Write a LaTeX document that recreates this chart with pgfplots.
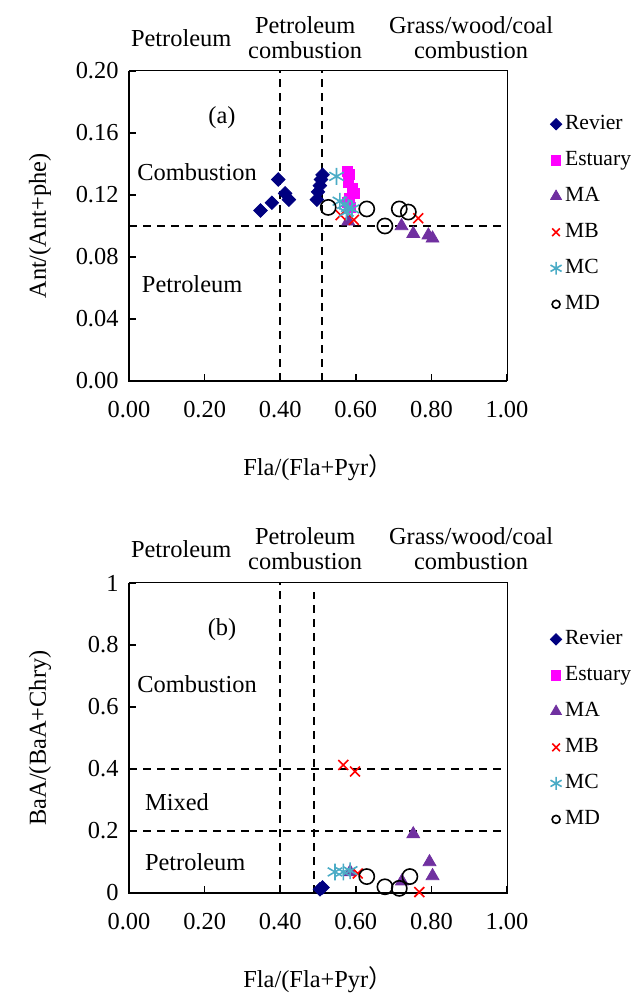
\documentclass[border=0pt]{standalone}
\usepackage{pgfplots}
\pgfplotsset{compat=1.18}
\usepackage{fontspec}
\setmainfont{Liberation Serif}
\newfontfamily\cjk{Noto Sans CJK SC}
\definecolor{revier}{HTML}{000080}
\definecolor{estuary}{HTML}{FF00FF}
\definecolor{maC}{HTML}{7030A0}
\definecolor{mbC}{HTML}{FF0000}
\definecolor{mcC}{HTML}{4BACC6}
\pgfplotsset{
  common/.style={
    scale only axis, width=189bp, height=155bp, anchor=south west,
    clip=false,
    xmin=0, xmax=1, xtick={0,0.2,0.4,0.6,0.8,1},
    axis line style={line width=0.5bp},
    tick align=inside, xtick pos=bottom, ytick pos=left,
    major tick length=3.5bp,
    tick style={line width=0.8bp, black},
    /pgf/number format/assume math mode=true,
    xticklabel style={/pgf/number format/.cd, fixed, fixed zerofill, precision=2, /tikz/.cd, yshift=-6bp},
    yticklabel style={xshift=-1bp},
    xlabel={Fla/(Fla+Pyr{\cjk ）}},
    xlabel style={at={(axis description cs:0.5,-0.28)}, anchor=center},
    ylabel style={at={(axis description cs:-0.2354,0.5)}, anchor=center},
    legend style={draw=none, fill=none, inner sep=0pt, outer sep=0pt,
      anchor=north west, row sep=7.5bp, font=\fontsize{10.8bp}{12bp}\selectfont,
      nodes={inner xsep=0pt, inner ysep=0pt, text height=8bp, text depth=2.5bp}},
    legend cell align=left,
    legend image code/.code={%
      \pgfpathrectangle{\pgfpoint{-4.5bp}{-3bp}}{\pgfpoint{9bp}{6bp}}\pgfusepath{}%
      \pgfinterruptboundingbox
      \draw[mark repeat=2,mark phase=2,#1] plot coordinates {(-4bp,0bp)(0bp,0bp)(4bp,0bp)};
      \endpgfinterruptboundingbox},
    dl/.style={black, dash pattern=on 4bp off 3bp, line width=0.75bp, forget plot},
    srev/.style={only marks, mark=square*, mark size=2.4bp, mark options={rotate=45, fill=revier, draw=revier}, color=revier},
    sest/.style={only marks, mark=square*, mark size=2.5bp, color=estuary, mark options={fill=estuary}},
    sma/.style={only marks, mark=triangle*, mark size=3.7bp, color=maC, mark options={fill=maC}},
    smb/.style={only marks, mark=x, mark size=3.5bp, color=mbC, mark options={line width=0.8bp}},
    smc/.style={only marks, mark=asterisk, mark size=4.2bp, color=mcC, mark options={line width=0.8bp}},
    smd/.style={only marks, mark=o, mark size=3.8bp, color=black, mark options={line width=0.8bp}},
    lrev/.style={srev, mark size=2bp},
    lest/.style={sest, mark size=2.4bp},
    lma/.style={sma, mark size=3.1bp},
    lmb/.style={smb, mark size=2.7bp},
    lmc/.style={smc, mark size=3.2bp},
    lmd/.style={only marks, mark=o, mark size=2bp, color=black, mark options={line width=0.8bp}},
  }
}
\newcommand\mylegend{%
  \addlegendimage{lrev}\addlegendentry{Revier}
  \addlegendimage{lest}\addlegendentry{Estuary}
  \addlegendimage{lma}\addlegendentry{MA}
  \addlegendimage{lmb}\addlegendentry{MB}
  \addlegendimage{lmc}\addlegendentry{MC}
  \addlegendimage{lmd}\addlegendentry{MD}}
\begin{document}
\fontsize{12.2bp}{14bp}\selectfont
\begin{tikzpicture}
\path[use as bounding box] (0,0) rectangle (316bp,497bp);
% ---------- panel (a)
\begin{axis}[common, at={(64.5bp,306.5bp)},
  ymin=0, ymax=0.2, ytick={0,0.04,0.08,0.12,0.16,0.2},
  yticklabel style={/pgf/number format/.cd, fixed, fixed zerofill, precision=2},
  ylabel={Ant/(Ant+phe)},
  legend style={at={(axis description cs:1.106,0.862)}}]
\mylegend
\addplot[dl] coordinates {(0.4,0) (0.4,0.2)};
\addplot[dl] coordinates {(0.51,0) (0.51,0.2)};
\addplot[dl] coordinates {(0,0.1) (0.99,0.1)};
\addplot[srev, forget plot] coordinates {(0.348,0.110) (0.378,0.115) (0.395,0.130) (0.413,0.121) (0.423,0.117) (0.497,0.117) (0.500,0.122) (0.505,0.126) (0.508,0.130) (0.512,0.133)};
\addplot[sest, forget plot] coordinates {(0.577,0.135) (0.582,0.133) (0.580,0.128) (0.590,0.124) (0.596,0.121) (0.583,0.118) (0.578,0.115) (0.585,0.112)};
\addplot[sma, forget plot] coordinates {(0.580,0.103) (0.721,0.100) (0.752,0.095) (0.792,0.094) (0.803,0.092)};
\addplot[smb, forget plot] coordinates {(0.560,0.107) (0.595,0.104) (0.765,0.105)};
\addplot[smc, forget plot] coordinates {(0.549,0.132) (0.558,0.116) (0.570,0.114) (0.580,0.112) (0.590,0.111) (0.575,0.109)};
\addplot[smd, forget plot] coordinates {(0.527,0.112) (0.629,0.111) (0.677,0.100) (0.715,0.111) (0.739,0.109)};
\node at (axis cs:0.246,0.170) {(a)};
\node at (axis cs:0.18,0.135) {Combustion};
\node at (axis cs:0.167,0.0625) {Petroleum};
\node at (axis cs:0.138,0.2213) {Petroleum};
\node[align=center, font=\fontsize{12.2bp}{12.6bp}\selectfont] at (axis cs:0.466,0.2213) {Petroleum\\combustion};
\node[align=center, font=\fontsize{12.2bp}{12.6bp}\selectfont] at (axis cs:0.905,0.2213) {Grass/wood/coal\\combustion};
\draw[line width=1.1bp] (rel axis cs:0,1) -- (rel axis cs:0,0) -- (rel axis cs:1,0);
\end{axis}
% ---------- panel (b)
\begin{axis}[common, at={(64.5bp,50.5bp)},
  ymin=0, ymax=1, ytick={0,0.2,0.4,0.6,0.8,1},
  ylabel={BaA/(BaA+Chry)},
  legend style={at={(axis description cs:1.106,0.852)}}]
\mylegend
\addplot[dl] coordinates {(0.4,0) (0.4,1)};
\addplot[dl] coordinates {(0.49,0) (0.49,0.97)};
\addplot[dl] coordinates {(0,0.4) (0.99,0.4)};
\addplot[dl] coordinates {(0,0.2) (0.99,0.2)};
\addplot[srev, forget plot] coordinates {(0.505,0.012) (0.512,0.018)};
\addplot[sma, forget plot] coordinates {(0.585,0.068) (0.722,0.038) (0.752,0.190) (0.795,0.100) (0.803,0.055)};
\addplot[smb, forget plot] coordinates {(0.567,0.413) (0.598,0.392) (0.605,0.063) (0.768,0.003)};
\addplot[smc, forget plot] coordinates {(0.545,0.068) (0.567,0.068) (0.585,0.072)};
\addplot[smd, forget plot] coordinates {(0.629,0.053) (0.677,0.020) (0.715,0.015) (0.743,0.053)};
\node at (axis cs:0.246,0.848) {(b)};
\node at (axis cs:0.18,0.674) {Combustion};
\node at (axis cs:0.127,0.294) {Mixed};
\node at (axis cs:0.175,0.10) {Petroleum};
\node at (axis cs:0.138,1.11) {Petroleum};
\node[align=center, font=\fontsize{12.2bp}{12.6bp}\selectfont] at (axis cs:0.466,1.11) {Petroleum\\combustion};
\node[align=center, font=\fontsize{12.2bp}{12.6bp}\selectfont] at (axis cs:0.905,1.11) {Grass/wood/coal\\combustion};
\draw[line width=1.1bp] (rel axis cs:0,1) -- (rel axis cs:0,0) -- (rel axis cs:1,0);
\end{axis}
\end{tikzpicture}
\end{document}
